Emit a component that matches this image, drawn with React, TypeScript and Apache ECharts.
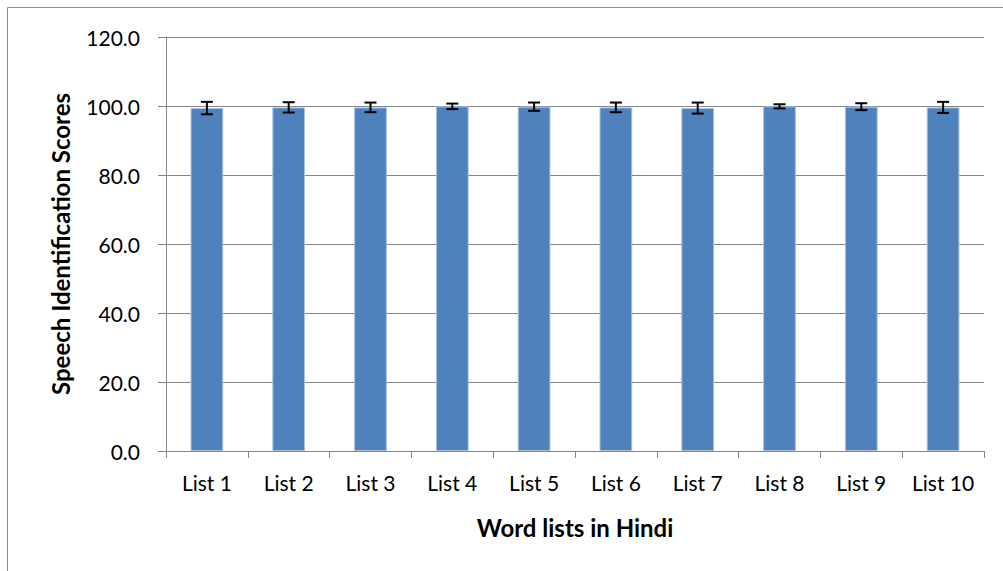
import React, { useEffect, useRef } from "react";
import * as echarts from "echarts";

const categories = ["List 1", "List 2", "List 3", "List 4", "List 5", "List 6", "List 7", "List 8", "List 9", "List 10"];
const meanScores = [99.4, 99.6, 99.6, 99.9, 99.8, 99.6, 99.4, 99.9, 99.8, 99.6];
const errorSD = [1.8, 1.5, 1.4, 0.8, 1.2, 1.4, 1.6, 0.6, 1.0, 1.6];
const yTicks = { min: 0, max: 120, interval: 20 };

const FONT = "Lato, 'Open Sans', sans-serif";

export default function App() {
  const ref = useRef<HTMLDivElement>(null);
  useEffect(() => {
    if (!ref.current) return;
    const chart = echarts.init(ref.current, null, { renderer: "svg" });
    const errData = categories.map((_, i) => [i, meanScores[i] - errorSD[i], meanScores[i] + errorSD[i]]);
    chart.setOption({
      animation: false,
      textStyle: { fontFamily: FONT },
      graphic: [
        {
          type: "rect",
          shape: { x: 7.5, y: 7.5, width: 1010, height: 580 },
          style: { fill: "none", stroke: "#8c8c8c", lineWidth: 1 },
          silent: true,
        },
      ],
      grid: { left: 166, top: 37, right: 19, bottom: 120 },
      xAxis: {
        type: "category",
        data: categories,
        boundaryGap: true,
        axisLine: { lineStyle: { color: "#868686", width: 1 } },
        axisTick: { show: true, length: 7, lineStyle: { color: "#868686" } },
        axisLabel: { color: "#000", fontSize: 21, fontFamily: FONT, margin: 21 },
        name: "Word lists in Hindi",
        nameLocation: "middle",
        nameGap: 64,
        nameTextStyle: { color: "#000", fontSize: 24, fontWeight: "bold", fontFamily: FONT },
      },
      yAxis: {
        type: "value",
        min: yTicks.min,
        max: yTicks.max,
        interval: yTicks.interval,
        axisLine: { show: true, lineStyle: { color: "#868686", width: 1 } },
        axisTick: { show: true, length: 8, lineStyle: { color: "#868686" } },
        splitLine: { lineStyle: { color: "#868686", width: 1 } },
        axisLabel: {
          color: "#000",
          fontSize: 21,
          fontFamily: FONT,
          margin: 26,
          formatter: (v: number) => v.toFixed(1),
        },
        name: "Speech Identification Scores",
        nameLocation: "middle",
        nameGap: 94,
        nameTextStyle: { color: "#000", fontSize: 24, fontWeight: "bold", fontFamily: FONT },
      },
      series: [
        {
          type: "bar",
          data: meanScores,
          barWidth: "40%",
          itemStyle: { color: "#4F81BD", borderColor: "#a9bfdc", borderWidth: 1 },
        },
        {
          type: "custom",
          data: errData,
          z: 10,
          renderItem: (params: any, api: any) => {
            const x = api.value(0);
            const lo = api.coord([x, api.value(1)]);
            const hi = api.coord([x, api.value(2)]);
            const half = 6;
            const style = { stroke: "#000", lineWidth: 2 };
            return {
              type: "group",
              children: [
                { type: "line", shape: { x1: lo[0], y1: lo[1], x2: hi[0], y2: hi[1] }, style },
                { type: "line", shape: { x1: lo[0] - half, y1: lo[1], x2: lo[0] + half, y2: lo[1] }, style },
                { type: "line", shape: { x1: hi[0] - half, y1: hi[1], x2: hi[0] + half, y2: hi[1] }, style },
              ],
            };
          },
        },
      ],
    });
    return () => chart.dispose();
  }, []);
  return (
    <div
      ref={ref}
      style={{ position: "fixed", left: 0, top: 0, width: 1003, height: 571, background: "#fff" }}
    />
  );
}
